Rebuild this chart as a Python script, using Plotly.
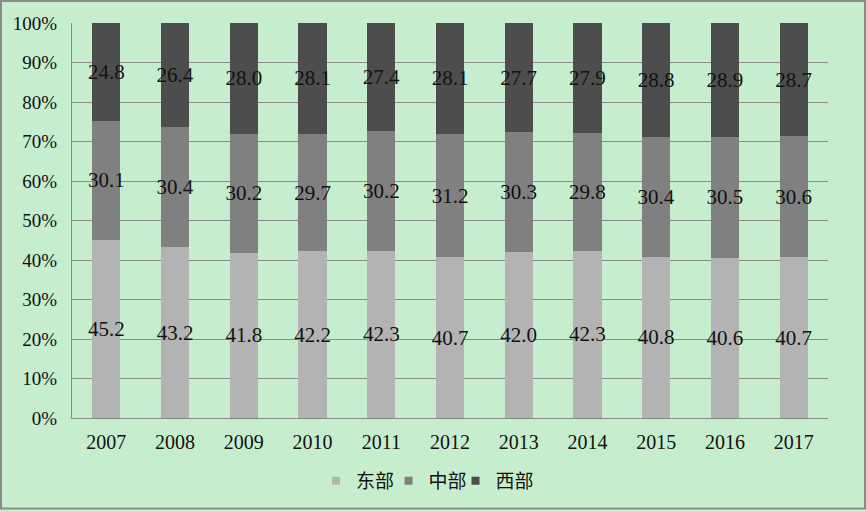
import plotly.graph_objects as go

years = ["2007", "2008", "2009", "2010", "2011", "2012", "2013", "2014", "2015", "2016", "2017"]
east = [45.2, 43.2, 41.8, 42.2, 42.3, 40.7, 42.0, 42.3, 40.8, 40.6, 40.7]
central = [30.1, 30.4, 30.2, 29.7, 30.2, 31.2, 30.3, 29.8, 30.4, 30.5, 30.6]
west = [24.8, 26.4, 28.0, 28.1, 27.4, 28.1, 27.7, 27.9, 28.8, 28.9, 28.7]

names = ["东部", "中部", "西部"]
colors = ["#B3B3B3", "#808080", "#4D4D4D"]

serif = "Liberation Serif, DejaVu Serif, serif"
lab_font = dict(family=serif, size=21, color="#111111")

fig = go.Figure()
for name, vals, col in zip(names, [east, central, west], colors):
    fig.add_trace(go.Bar(
        x=years, y=vals, name=name, marker=dict(color=col, line=dict(width=0)),
        text=[f"{v:.1f}" for v in vals], textposition="inside", insidetextanchor="middle",
        textfont=lab_font, constraintext="none", textangle=0, showlegend=False,
    ))
# legend entries with small square markers, one legend box each
legend_ids = ["legend", "legend2", "legend3"]
legend_x = [0.3228, 0.4187, 0.5073]
for name, col, lid in zip(names, colors, legend_ids):
    fig.add_trace(go.Scatter(
        x=[None], y=[None], mode="markers", name=name, legend=lid,
        marker=dict(symbol="square", size=8, color=col),
    ))

leg_common = dict(orientation="h", xanchor="left", y=-0.159, yanchor="middle",
                  font=dict(family="Noto Sans CJK SC", size=19, color="#111111"),
                  itemwidth=30, bgcolor="rgba(0,0,0,0)")

fig.update_layout(
    barmode="stack", barnorm="percent", bargap=0.59,
    width=866, height=512,
    paper_bgcolor="#C6EECE", plot_bgcolor="#C6EECE",
    margin=dict(l=72, r=38, t=23, b=92),
    font=dict(family=serif, size=20, color="#111111"),
    legend=dict(x=legend_x[0], **leg_common),
    legend2=dict(x=legend_x[1], **leg_common),
    legend3=dict(x=legend_x[2], **leg_common),
    shapes=[dict(type="rect", xref="paper", yref="paper", x0=-71/756, x1=1+37/756,
                 y0=-91/397, y1=1+22/397, line=dict(color="#8a8a8a", width=2))],
)
fig.update_yaxes(range=[0, 100], dtick=10, ticksuffix="%", showgrid=True, gridcolor="#8a8a8a",
                 gridwidth=1, showline=True, linecolor="#8a8a8a", ticks="", zeroline=False,
                 tickfont=dict(size=19), ticklabelstandoff=10)
fig.update_xaxes(showline=True, linecolor="#8a8a8a", ticks="", tickfont=dict(size=20),
                 ticklabelstandoff=6)

fig.write_html("out.html", config={"displayModeBar": False},
               post_script="document.body.style.margin='0';document.body.style.overflow='hidden';")
